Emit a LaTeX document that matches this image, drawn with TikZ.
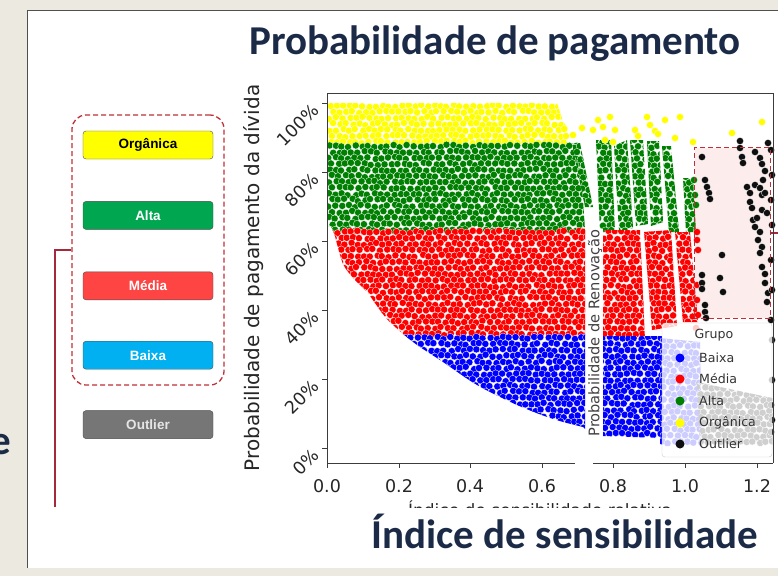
\documentclass[tikz,border=0pt]{standalone}
\usepackage{fontspec}
\setmainfont{DejaVu Sans}
\newfontfamily\headfont{Carlito}
\newfontfamily\boxfont{Liberation Sans}
\usetikzlibrary{positioning}

\definecolor{slidebg}{RGB}{236,233,224}
\definecolor{framegray}{RGB}{80,80,80}
\definecolor{navy}{RGB}{27,42,71}
\definecolor{dashred}{RGB}{192,48,58}
\definecolor{linkred}{RGB}{165,40,60}
\definecolor{orgfill}{RGB}{255,255,0}
\definecolor{altafill}{RGB}{0,166,80}
\definecolor{mediafill}{RGB}{255,68,68}
\definecolor{baixafill}{RGB}{0,176,240}
\definecolor{outfill}{RGB}{118,118,118}
\definecolor{dotY}{RGB}{255,255,0}
\definecolor{dotG}{RGB}{0,128,0}
\definecolor{dotR}{RGB}{255,0,0}
\definecolor{dotB}{RGB}{0,0,255}
\definecolor{dotK}{RGB}{15,15,15}
\definecolor{spine}{RGB}{60,60,60}
\definecolor{rectpink}{RGB}{253,236,236}

\tikzset{
  headtxt/.style={font=\headfont\bfseries\fontsize{41}{41}\selectfont, text=navy, inner sep=0pt},
  legbox/.style={draw=black!70, rounded corners=3pt, minimum width=130pt, minimum height=28pt,
    inner sep=0pt, font=\boxfont\bfseries\fontsize{13.5}{13.5}\selectfont},
  grpbox/.style={draw=dashred, line width=1.3pt, dash pattern=on 5pt off 3pt, rounded corners=14pt,
    minimum width=152pt, minimum height=270pt},
  link/.style={draw=linkred, line width=1.2pt},
  axline/.style={draw=spine, line width=0.9pt},
  scatdot/.style={draw=white, line width=0.3pt},
  ticklbl/.style={font=\fontsize{17.5}{17.5}\selectfont, text=black!85, inner sep=0pt},
  legtxt/.style={font=\fontsize{12.6}{12.6}\selectfont, text=black!80, inner sep=0pt},
}

% jittered grid of scatter dots: colour, x0, y0, columns, rows
\newcommand\dotgrid[5]{%
  \foreach \i in {0,...,#5}{%
    \foreach \j in {0,...,#4}{%
      \pgfmathsetmacro\ptx{#2+6.5*\j+3.2*mod(\i,2)+1.3*rand}%
      \pgfmathsetmacro\pty{#3+6*\i+1.3*rand}%
      \path[scatdot,fill=#1] (\ptx,\pty) circle (3.6);
    }}}

\begin{document}
\begin{tikzpicture}[x=1pt,y=-1pt]
\pgfmathsetseed{11}
\path[use as bounding box] (0,0) rectangle (778,576);
\clip (0,0) rectangle (778,576);

% slide and panel
\fill[slidebg] (0,0) rectangle (778,576);
\fill[white] (28,11) rectangle (778,568);
\draw[framegray, line width=1pt] (27.5,568) -- (27.5,10.5) -- (778,10.5);
\node[headtxt, anchor=base east] (cut) at (11,454) {e};

% titles
\node[headtxt, anchor=base] (title) at (495,54) {Probabilidade de pagamento};
\node[headtxt, anchor=base] (subtitle) at (565,548) {Índice de sensibilidade};

% group legend on the left
\node[legbox, fill=orgfill, text=black] (org) at (148,145) {Orgânica};
\node[legbox, fill=altafill, text=white, below=42pt of org] (alta) {Alta};
\node[legbox, fill=mediafill, text=white, below=42pt of alta] (media) {Média};
\node[legbox, fill=baixafill, text=white, below=41pt of media] (baixa) {Baixa};
\node[legbox, fill=outfill, text=white!90!black, below=41pt of baixa] (outl) {Outlier};
\node[grpbox] (grupo) at (148,250) {};
\coordinate (linkend) at (55,507);
\draw[link] (grupo.west) -| (linkend);

% outlier window
\node[fill=rectpink, minimum width=75pt, minimum height=170pt, inner sep=0pt] (outbox) at (732.5,233) {};

% left scatter
\begin{scope}
\clip (327,103) -- (557,103) -- (563,122) -- (578,140) -- (582,185) -- (585,230) -- (585,429)
  -- plot[smooth] coordinates {(583,427) (553,419) (517,405) (477,385) (443,362) (413,342)
     (387,319) (367,292) (355,280) (343,264) (335,236)} -- (331,226) -- (327,226) -- cycle;
\dotgrid{dotY}{330}{106}{36}{6}
\dotgrid{dotG}{329}{146}{39}{14}
\dotgrid{dotR}{331}{232}{39}{17}
\dotgrid{dotB}{405}{338}{28}{15}
\end{scope}

% right scatter
\begin{scope}
\clip (572,143) -- (580,143) -- (593,207) -- (585,207) -- cycle
  (596,140) -- (611,140) -- (615,232) -- (600,232) -- cycle
  (614,146) -- (627,140) -- (633,228) -- (619,232) -- cycle
  (630,140) -- (643,140) -- (648,224) -- (636,226) -- cycle
  (647,141) -- (659,141) -- (663,222) -- (651,226) -- cycle
  (662,146) -- (671,146) -- (679,232) -- (669,232) -- cycle
  (683,178) -- (693,178) -- (696,232) -- (686,232) -- cycle;
\dotgrid{dotG}{570}{141}{19}{15}
\end{scope}
\begin{scope}
\clip (603,230) -- (640,230) -- (645,340) -- (603,340) -- cycle
  (644,232) -- (671,230) -- (677,326) -- (652,330) -- cycle
  (675,232) -- (690,232) -- (698,322) -- (683,322) -- cycle;
\dotgrid{dotR}{601}{232}{15}{17}
\end{scope}
\begin{scope}
\clip (603,336) -- (662,336) -- (662,438) -- (603,436) -- cycle;
\dotgrid{dotB}{602}{338}{9}{16}
\end{scope}
\begin{scope}
\clip (660,338) -- (700,342) -- (702,446) -- (660,446) -- cycle;
\dotgrid{dotB}{658}{340}{7}{17}
\end{scope}
\begin{scope}
\clip (697,382) -- (772,398) -- (772,446) -- (700,446) -- cycle;
\dotgrid{dotK}{695}{382}{12}{10}
\end{scope}
\foreach \a/\b in {573/135, 582/128, 593/130, 598/120, 603/127, 610/117, 615/130, 605/140,
  613/142, 635/130, 638/136, 647/117, 650/125, 655/131, 658/134, 665/120, 675/138, 680/117,
  693/142, 732/133, 762/122}
  \path[scatdot,fill=dotY] (\a,\b) circle (3.6);
\foreach \a/\b in {694/180, 695/195, 696/205}
  \path[scatdot,fill=dotG] (\a,\b) circle (3.6);
\foreach \a/\b in {697/232, 697/240, 698/250, 697/285, 697/300, 698/315, 696/328}
  \path[scatdot,fill=dotR] (\a,\b) circle (3.6);
\foreach \a/\b in {702/157, 740/141, 740/148, 742/157, 743/163, 755/152, 760/158, 762/164,
  765/171, 768/143, 705/180, 707/187, 709/193, 710/199, 747/187, 750/193, 755/185, 760/188,
  762/195, 763/180, 765/193, 750/202, 752/208, 762/210, 767/213, 753/220, 757/218, 755/227,
  760/232, 758/240, 762/247, 760/253, 722/255, 762/267, 765/274, 702/275, 720/278, 702/283,
  702/289, 723/292, 765/283, 768/293, 767/302, 705/305, 705/312, 706/318, 771/150, 772/175,
  771/200, 772/225, 771/260, 772/290, 771/320, 772/340, 772/380, 771/405, 772/420, 771/432}
  \path[scatdot,fill=dotK] (\a,\b) circle (3.6);
\draw[dashred, line width=1.2pt, dash pattern=on 5pt off 3pt]
  (outbox.south west) rectangle (outbox.north east);
\coordinate (offright) at (778,233);
\draw[link] (outbox.east) -- (offright);

% second plot label
\node[rotate=90, fill=white, inner sep=1pt, text=black!75,
  font=\fontsize{14.6}{14.6}\selectfont] (ylabren) at (595,333) {Probabilidade de Renovação};

% plot legend
\node[draw=black!20, fill=white, fill opacity=0.8, rounded corners=3pt, minimum width=110pt,
  minimum height=134pt] (legend) at (717,390) {};
\node[legtxt] (legtitle) at (714,335) {Grupo};
\foreach \lab/\col/\yy [count=\k] in {Baixa/dotB/358, Média/dotR/379, Alta/dotG/401,
  Orgânica/dotY/423, Outlier/dotK/444}{
  \path[fill=\col] (680,\yy) circle (4.5);
  \node[legtxt, anchor=west] (leg\k) at (699,\yy) {\lab};
}

% axes
\draw[axline] (327,93) -- (773,93);
\draw[axline] (327,93) -- (327,463);
\draw[axline] (773,93) -- (773,463);
\draw[axline] (327,463) -- (575,463);
\draw[axline] (593,463) -- (773,463);
\foreach \v/\xx in {0.0/327, 0.2/399, 0.4/470, 0.6/542, 0.8/613, 1.0/685, 1.2/757}{
  \draw[axline] (\xx,463) -- (\xx,468);
  \node[ticklbl, anchor=base] (xt\xx) at (\xx,492) {\v};
}
\foreach \p/\yy in {0/448, 20/379, 40/310, 60/241, 80/172, 100/103}{
  \draw[axline] (327,\yy) -- (322,\yy);
  \node[ticklbl, rotate=45, anchor=east] (yt\p) at (316,\yy+4) {\p\%};
}
\node[rotate=90, font=\fontsize{20}{20}\selectfont, text=black!85] (ylab) at (254,278)
  {Probabilidade de pagamento da dívida};
\begin{scope}
\clip (300,495) rectangle (700,507);
\node[anchor=base, font=\fontsize{17}{17}\selectfont, text=black!85] (xlab) at (540,516)
  {Índice de sensibilidade relativa};
\end{scope}
\end{tikzpicture}
\end{document}
